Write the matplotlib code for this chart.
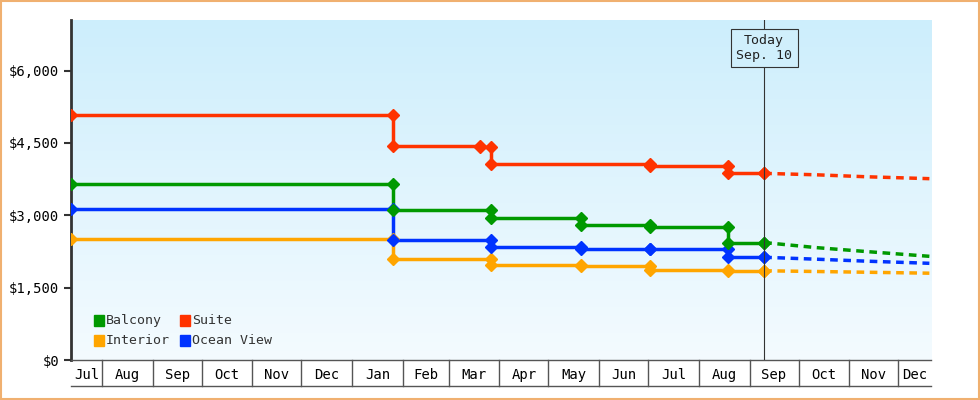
import matplotlib
matplotlib.use("Agg")
import matplotlib.pyplot as plt
import numpy as np
from matplotlib.transforms import blended_transform_factory
from matplotlib.patches import Rectangle
from matplotlib.colors import LinearSegmentedColormap

# days since Jul 1 of first year
month_starts = [0, 31, 62, 92, 123, 153, 184, 215, 243, 274, 304, 335, 365, 396, 427, 457, 488, 518]
month_labels = ["Jul", "Aug", "Sep", "Oct", "Nov", "Dec", "Jan", "Feb", "Mar", "Apr", "May", "Jun",
                "Jul", "Aug", "Sep", "Oct", "Nov", "Dec"]
x_start, x_end = 12, 538
today = 436

colors = {"Balcony": "#009900", "Suite": "#ff3300", "Interior": "#ffa500", "Ocean View": "#0033ff"}

suite_days = [12, 209, 262, 269, 366, 414, 436]
suite_vals = [5080, 4440, 4420, 4070, 4025, 3870, 3870]
balcony_days = [12, 209, 269, 324, 366, 414, 436]
balcony_vals = [3650, 3110, 2940, 2790, 2750, 2435, 2435]
ocean_days = [12, 209, 269, 324, 366, 414, 436]
ocean_vals = [3130, 2490, 2340, 2310, 2295, 2130, 2130]
interior_days = [12, 209, 269, 324, 366, 414, 436]
interior_vals = [2510, 2100, 1980, 1950, 1875, 1850, 1850]

fc_days = [436, 468, 498, 537]
suite_fc = [3870, 3840, 3800, 3760]
balcony_fc = [2435, 2330, 2250, 2150]
ocean_fc = [2130, 2090, 2050, 2005]
interior_fc = [1850, 1835, 1820, 1800]

data = {"Suite": (suite_days, suite_vals, suite_fc), "Balcony": (balcony_days, balcony_vals, balcony_fc),
        "Ocean View": (ocean_days, ocean_vals, ocean_fc), "Interior": (interior_days, interior_vals, interior_fc)}

plt.rcParams["font.family"] = ["DejaVu Sans Mono"]
fig = plt.figure(figsize=(9.8, 4.0), dpi=100)
fig.patch.set_facecolor("white")
fig.add_artist(Rectangle((0.001, 0.002), 0.998, 0.996, transform=fig.transFigure, fill=False,
                         edgecolor="#f0b070", lw=1.5))
ax = fig.add_axes([0.0724, 0.10, 0.8776, 0.85])
ymax = 7050
grad = np.linspace(0, 1, 256).reshape(-1, 1)
cm = LinearSegmentedColormap.from_list("g", ["#cdeefc", "#f4fbff"])
ax.imshow(grad, cmap=cm, aspect="auto", extent=[x_start, x_end, 0, ymax], origin="upper", zorder=0)
ax.set_xlim(x_start, x_end)
ax.set_ylim(0, ymax)

for name in ["Interior", "Ocean View", "Balcony", "Suite"]:
    d, v, f = data[name]
    c = colors[name]
    ax.step(d, v, where="post", color=c, lw=2.5, zorder=3)
    mx, my = [d[0]], [v[0]]
    for i in range(1, len(d)):
        mx += [d[i], d[i]]
        my += [v[i - 1], v[i]]
    ax.plot(mx, my, "D", color=c, ms=6, zorder=4)
    ax.plot(fc_days, f, color=c, lw=2.5, ls=(0, (2.2, 1.6)), zorder=3)

ax.axvline(today, color="#333333", lw=0.8, zorder=5)
ax.text(today, 6470, "Today\nSep. 10", ha="center", va="center", fontsize=9.5, color="#222222",
        bbox=dict(boxstyle="square,pad=0.4", fc="#d0effc", ec="#333333", lw=0.8), zorder=6)

yt = [0, 1500, 3000, 4500, 6000]
ax.set_yticks(yt)
ax.set_yticklabels(["${:,}".format(t) for t in yt], fontsize=10)
ax.tick_params(axis="y", length=5, width=1.5, color="#333333")
for s in ["top", "right"]:
    ax.spines[s].set_visible(False)
ax.spines["left"].set_color("#333333")
ax.spines["left"].set_linewidth(2)
ax.spines["bottom"].set_color("#555555")
ax.spines["bottom"].set_linewidth(1)

bounds = [max(x_start, m) for m in month_starts] + [x_end]
centers = [(bounds[i] + bounds[i + 1]) / 2 for i in range(len(month_labels))]
ax.set_xticks(centers)
ax.set_xticklabels(month_labels, fontsize=10)
ax.tick_params(axis="x", length=0, pad=6)
tr = blended_transform_factory(ax.transData, ax.transAxes)
for b in month_starts[1:]:
    ax.plot([b, b], [0, -0.075], transform=tr, color="#555555", lw=1, clip_on=False)
ax.plot([x_start, x_end], [-0.075, -0.075], transform=tr, color="#555555", lw=1, clip_on=False)

lx = 0.027
items = [("Balcony", lx, 0.115), ("Suite", lx + 0.1, 0.115), ("Interior", lx, 0.057), ("Ocean View", lx + 0.1, 0.057)]
for name, x, y in items:
    ax.add_patch(Rectangle((x, y - 0.016), 0.012, 0.032, transform=ax.transAxes, color=colors[name], zorder=6))
    ax.text(x + 0.014, y, name, transform=ax.transAxes, va="center", fontsize=9.5, color="#333333", zorder=6)

fig.savefig("out.png", dpi=100)
